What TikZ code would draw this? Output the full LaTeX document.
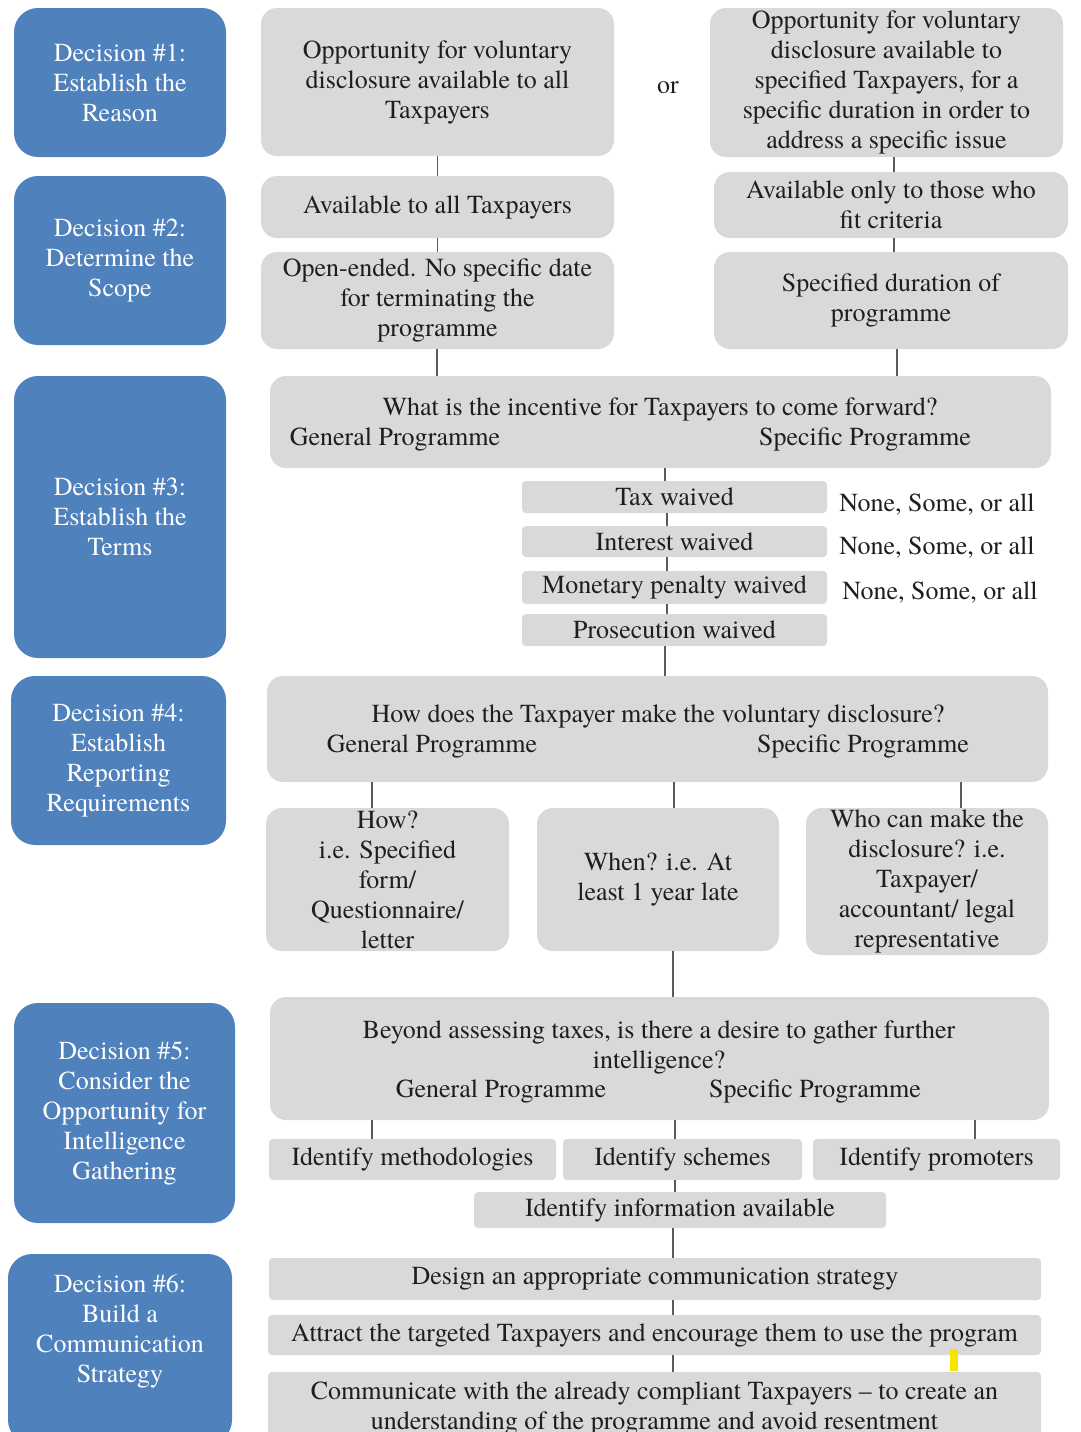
\documentclass[tikz,border=0pt]{standalone}
\usepackage{fontspec}
\setmainfont{texgyretermes}[Extension=.otf, UprightFont=*-regular, Ligatures=TeX]
\usetikzlibrary{positioning}
\definecolor{decblue}{RGB}{79,129,189}
\definecolor{boxgray}{RGB}{217,217,217}
\definecolor{inkgray}{RGB}{30,30,30}
\definecolor{linegray}{RGB}{90,90,90}
\definecolor{marker}{RGB}{245,230,0}
\tikzset{
    txt/.style={font=\fontsize{26}{30}\selectfont, align=center, inner sep=0pt, text=inkgray},
    decision/.style={txt, rectangle, rounded corners=24pt, fill=decblue, text=white},
    choice/.style={txt, rectangle, rounded corners=16pt, fill=boxgray},
    waiver/.style={txt, rectangle, rounded corners=4pt, fill=boxgray},
    link/.style={draw=linegray, line width=1.3pt}
}
\begin{document}
\begin{tikzpicture}[x=1pt, y=-1pt]
                        \useasboundingbox (0,0) rectangle (1081,1432);
                        \node[decision, minimum width=212, minimum height=149] (d1) at (120,82.5) {Decision \#1:\\Establish the\\Reason};
                        \node[decision, minimum width=212, minimum height=169] (d2) at (120,260.5) {Decision \#2:\\Determine the\\Scope};
                        \node[decision, minimum width=212, minimum height=282] (d3) at (120,517) {Decision \#3:\\Establish the\\Terms};
                        \node[decision, minimum width=215, minimum height=169] (d4) at (118.5,760.5) {Decision \#4:\\Establish\\Reporting\\Requirements};
                        \node[decision, minimum width=221, minimum height=220] (d5) at (124.5,1113) {Decision \#5:\\Consider the\\Opportunity for\\Intelligence\\Gathering};
                        \node[decision, minimum width=224, minimum height=190] (d6) at (120,1349) {};
                        \node[txt, text=white] (d6t) at (120,1331) {Decision \#6:\\Build a\\Communication\\Strategy};
                        \node[choice, minimum width=353, minimum height=148] (a1) at (437.5,82) {Opportunity for voluntary\\disclosure available to all\\Taxpayers};
                        \node[txt] (or) at (668,88) {or};
                        \node[choice, minimum width=353, minimum height=149] (b1) at (886.5,82.5) {Opportunity for voluntary\\disclosure available to\\specified Taxpayers, for a\\specific duration in order to\\address a specific issue};
                        \node[choice, minimum width=353, minimum height=62] (a2) at (437.5,207) {Available to all Taxpayers};
                        \node[choice, minimum width=354, minimum height=66] (b2) at (891,205) {Available only to those who\\fit criteria};
                        \node[choice, minimum width=353, minimum height=97] (a3) at (437.5,300.5) {Open-ended. No specific date\\for terminating the\\programme};
                        \node[choice, minimum width=354, minimum height=97] (b3) at (891,300.5) {Specified duration of\\programme};
                        \node[choice, minimum width=781, minimum height=92] (t) at (660.5,422) {};
                        \node[txt] (tq) at (660,409) {What is the incentive for Taxpayers to come forward?};
                        \node[txt] (tgen) at (395,439) {General Programme};
                        \node[txt] (tspec) at (865,439) {Specific Programme};
                        \node[waiver, minimum width=305, minimum height=32] (w1) at (674.5,497) {Tax waived};
                        \node[waiver, minimum width=305, minimum height=31] (w2) at (674.5,541.5) {Interest waived};
                        \node[waiver, minimum width=305, minimum height=33] (w3) at (674.5,587.5) {Monetary penalty waived};
                        \node[waiver, minimum width=305, minimum height=32] (w4) at (674.5,630) {Prosecution waived};
                        \node[txt] (n1) at (937,504) {None, Some, or all};
                        \node[txt] (n2) at (937,547) {None, Some, or all};
                        \node[txt] (n3) at (940,592) {None, Some, or all};
                        \node[choice, minimum width=781, minimum height=106] (h) at (657.5,729) {};
                        \node[txt] (hq) at (658,716) {How does the Taxpayer make the voluntary disclosure?};
                        \node[txt] (hgen) at (432,746) {General Programme};
                        \node[txt] (hspec) at (863,746) {Specific Programme};
                        \node[choice, minimum width=243, minimum height=143] (h1) at (387.5,879.5) {How?\\i.e. Specified\\form/\\Questionnaire/\\letter};
                        \node[choice, minimum width=242, minimum height=143] (h2) at (658,879.5) {When? i.e. At\\least 1 year late};
                        \node[choice, minimum width=242, minimum height=147] (h3) at (927,881.5) {Who can make the\\disclosure? i.e.\\Taxpayer/\\accountant/ legal\\representative};
                        \node[choice, minimum width=779, minimum height=123] (i) at (659.5,1058.5) {};
                        \node[txt] (iq) at (659,1047) {Beyond assessing taxes, is there a desire to gather further\\intelligence?};
                        \node[txt] (igen) at (501,1091) {General Programme};
                        \node[txt] (ispec) at (815,1091) {Specific Programme};
                        \node[waiver, minimum width=287, minimum height=41] (i1) at (412.5,1159.5) {Identify methodologies};
                        \node[waiver, minimum width=239, minimum height=41] (i2) at (682.5,1159.5) {Identify schemes};
                        \node[waiver, minimum width=247, minimum height=41] (i3) at (936.5,1159.5) {Identify promoters};
                        \node[waiver, minimum width=412, minimum height=36] (i4) at (680,1210) {Identify information available};
                        \node[waiver, minimum width=772, minimum height=42] (c1) at (655,1279) {Design an appropriate communication strategy};
                        \node[waiver, minimum width=773, minimum height=40] (c2) at (654.5,1335) {Attract the targeted Taxpayers and encourage them to use the program};
                        \node[waiver, minimum width=773, minimum height=72] (c3) at (654.5,1408) {Communicate with the already compliant Taxpayers – to create an\\understanding of the programme and avoid resentment};
                        \fill[marker] (950,1349) rectangle (958,1371);
                        \draw[link]
                        (a1) -- (a2)
                        (a2) -- (a3)
                        (894,0 |- b1.south) -- (894,0 |- b2.north)
                        (894,0 |- b2.south) -- (894,0 |- b3.north)
                        (437,0 |- a3.south) -- (437,0 |- t.north)
                        (897,0 |- b3.south) -- (897,0 |- t.north)
                        (665,0 |- t.south) -- (665,0 |- w1.north)
                        (667,0 |- w1.south) -- (667,0 |- w2.north)
                        (667,0 |- w2.south) -- (667,0 |- w3.north)
                        (667,0 |- w3.south) -- (667,0 |- w4.north)
                        (665,0 |- w4.south) -- (665,0 |- h.north)
                        (372,0 |- h.south) -- (372,0 |- h1.north)
                        (674,0 |- h.south) -- (674,0 |- h2.north)
                        (961,0 |- h.south) -- (961,0 |- h3.north)
                        (673,0 |- h2.south) -- (673,0 |- i.north)
                        (372,0 |- i.south) -- (372,0 |- i1.north)
                        (675,0 |- i.south) -- (675,0 |- i2.north)
                        (975,0 |- i.south) -- (975,0 |- i3.north)
                        (675,0 |- i2.south) -- (675,0 |- i4.north)
                        (673,0 |- i4.south) -- (673,0 |- c1.north)
                        (673,0 |- c1.south) -- (673,0 |- c2.north)
                        (673,0 |- c2.south) -- (673,0 |- c3.north);
                    \end{tikzpicture}
\end{document}
